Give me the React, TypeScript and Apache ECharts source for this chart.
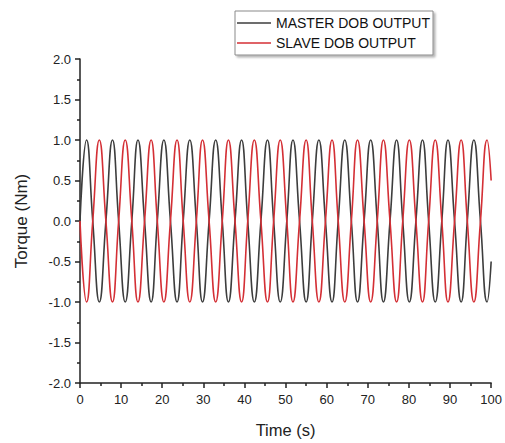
import React, { useEffect, useRef } from "react";
import * as echarts from "echarts";

// Time samples (s) read at peaks, troughs and zero crossings of the curves
const timeS = [
  0, 1.6, 3.1, 4.7, 6.3, 7.9, 9.4, 11.0, 12.6, 14.1, 15.7, 17.3, 18.8, 20.4, 22.0, 23.6,
  25.1, 26.7, 28.3, 29.8, 31.4, 33.0, 34.6, 36.1, 37.7, 39.3, 40.8, 42.4, 44.0, 45.6, 47.1, 48.7,
  50.3, 51.8, 53.4, 55.0, 56.5, 58.1, 59.7, 61.3, 62.8, 64.4, 66.0, 67.5, 69.1, 70.7, 72.3, 73.8,
  75.4, 77.0, 78.5, 80.1, 81.7, 83.3, 84.8, 86.4, 88.0, 89.5, 91.1, 92.7, 94.2, 95.8, 97.4, 99.0,
  100,
];

// Torque (Nm), master DOB output
const masterTorque = [
  0, 1, 0, -1, 0, 1, 0, -1, 0, 1, 0, -1, 0, 1, 0, -1,
  0, 1, 0, -1, 0, 1, 0, -1, 0, 1, 0, -1, 0, 1, 0, -1,
  0, 1, 0, -1, 0, 1, 0, -1, 0, 1, 0, -1, 0, 1, 0, -1,
  0, 1, 0, -1, 0, 1, 0, -1, 0, 1, 0, -1, 0, 1, 0, -1,
  -0.5,
];

// Torque (Nm), slave DOB output
const slaveTorque = [
  0, -1, 0, 1, 0, -1, 0, 1, 0, -1, 0, 1, 0, -1, 0, 1,
  0, -1, 0, 1, 0, -1, 0, 1, 0, -1, 0, 1, 0, -1, 0, 1,
  0, -1, 0, 1, 0, -1, 0, 1, 0, -1, 0, 1, 0, -1, 0, 1,
  0, -1, 0, 1, 0, -1, 0, 1, 0, -1, 0, 1, 0, -1, 0, 1,
  0.5,
];

const seriesNames = ["MASTER DOB OUTPUT", "SLAVE DOB OUTPUT"];
const xTitle = "Time (s)";
const yTitle = "Torque (Nm)";

const FONT = "'Liberation Sans', Arial, sans-serif";

export default function App() {
  const ref = useRef<HTMLDivElement>(null);
  useEffect(() => {
    if (!ref.current) return;
    const chart = echarts.init(ref.current, null, { renderer: "svg" });
    const pair = (ys: number[]) => timeS.map((t, i) => [t, ys[i]]);
    chart.setOption({
      animation: false,
      backgroundColor: "#ffffff",
      textStyle: { fontFamily: FONT },
      grid: { left: 80, right: 11, top: 59, bottom: 54, containLabel: false },
      legend: {
        orient: "vertical",
        left: 235,
        top: 11,
        padding: [5, 3, 5, 2],
        itemGap: 6,
        itemWidth: 34,
        itemHeight: 1.5,
        icon: "rect",
        backgroundColor: "#ffffff",
        borderColor: "#8a8a8a",
        borderWidth: 1,
        borderRadius: 0,
        shadowColor: "rgba(0,0,0,0.3)",
        shadowBlur: 2,
        shadowOffsetX: 2,
        shadowOffsetY: 2,
        textStyle: { fontFamily: FONT, fontSize: 14, color: "#111" },
        data: seriesNames,
      },
      xAxis: {
        type: "value",
        min: 0,
        max: 100,
        interval: 10,
        name: xTitle,
        nameLocation: "middle",
        nameGap: 38,
        nameTextStyle: { fontFamily: FONT, fontSize: 16.5, color: "#222" },
        axisLine: { show: true, onZero: false, lineStyle: { color: "#222", width: 1.5 } },
        axisTick: { show: true, inside: false, length: 5, lineStyle: { color: "#222", width: 1.5 } },
        minorTick: { show: true, splitNumber: 2, length: 3, lineStyle: { color: "#222", width: 1.5 } },
        splitLine: { show: false },
        axisLabel: { fontFamily: FONT, fontSize: 13, color: "#222", margin: 10 },
      },
      yAxis: {
        type: "value",
        min: -2,
        max: 2,
        interval: 0.5,
        name: yTitle,
        nameLocation: "middle",
        nameGap: 50,
        nameTextStyle: { fontFamily: FONT, fontSize: 17, color: "#222" },
        axisLine: { show: true, onZero: false, lineStyle: { color: "#222", width: 1.5 } },
        axisTick: { show: true, inside: false, length: 5, lineStyle: { color: "#222", width: 1.5 } },
        minorTick: { show: true, splitNumber: 2, length: 3, lineStyle: { color: "#222", width: 1.5 } },
        splitLine: { show: false },
        axisLabel: {
          fontFamily: FONT,
          fontSize: 13,
          color: "#222",
          margin: 9,
          formatter: (v: number) => v.toFixed(1),
        },
      },
      series: [
        {
          name: seriesNames[0],
          type: "line",
          data: pair(masterTorque),
          smooth: 0.5,
          symbol: "none",
          color: "#3d3d3d",
          lineStyle: { color: "#3d3d3d", width: 1.6 },
          z: 2,
        },
        {
          name: seriesNames[1],
          type: "line",
          data: pair(slaveTorque),
          smooth: 0.5,
          symbol: "none",
          color: "#d42f35",
          lineStyle: { color: "#d42f35", width: 1.6 },
          z: 3,
        },
      ],
    });
    return () => chart.dispose();
  }, []);
  return (
    <div
      ref={ref}
      style={{ position: "fixed", left: 0, top: 0, width: 505, height: 443, background: "#fff" }}
    />
  );
}
